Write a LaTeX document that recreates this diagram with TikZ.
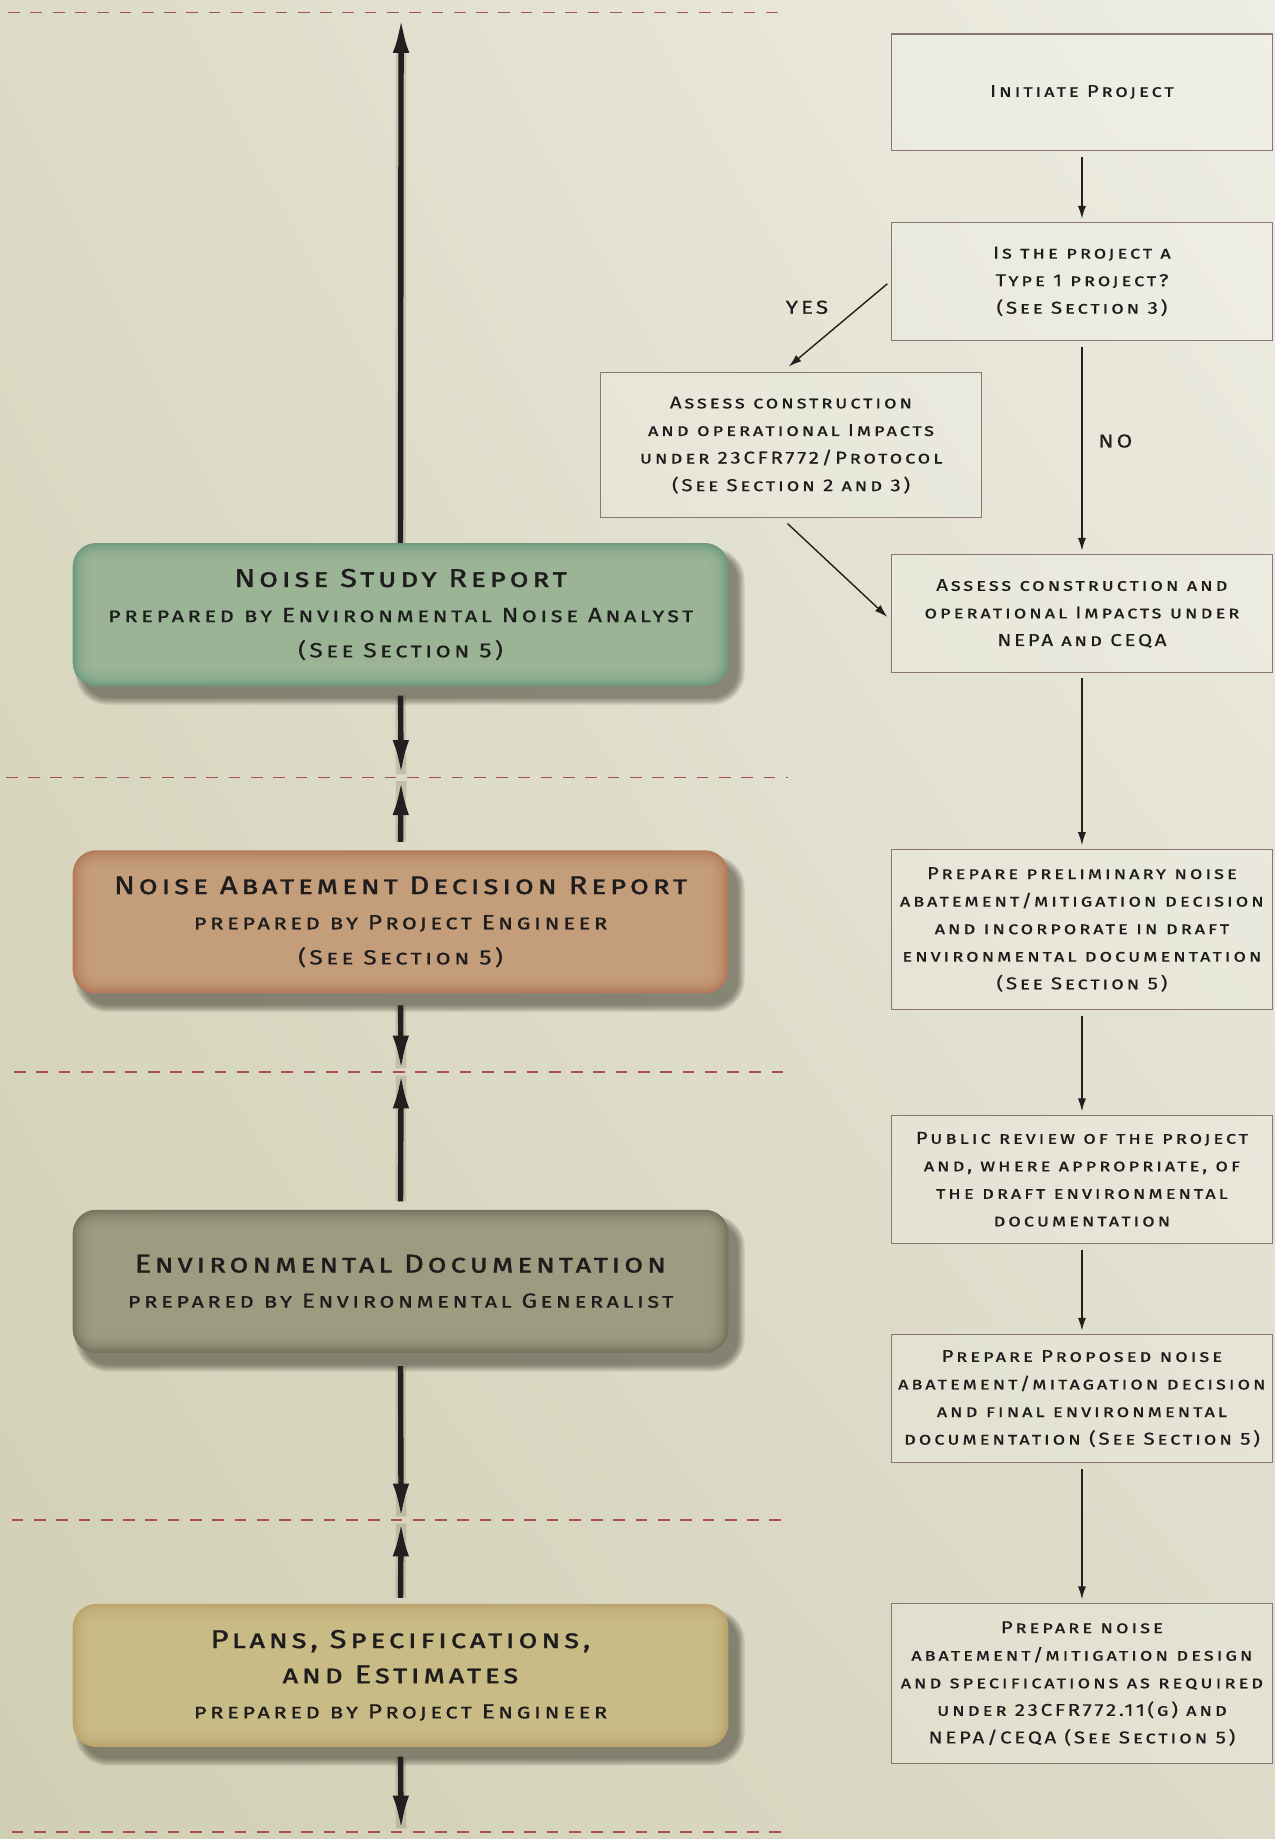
\documentclass[tikz,border=0pt]{standalone}
\usepackage{fontspec}
\setmainfont{Fira Sans}
\newfontfamily\scfont{Fira Sans}[Letters=SmallCaps,LetterSpace=16,FakeStretch=1.2,FakeBold=0.4]
\newfontfamily\sctitle{Fira Sans}[Letters=SmallCaps,LetterSpace=14,FakeStretch=1.2,FakeBold=1.2]
\usetikzlibrary{arrows.meta,shadings}
\definecolor{bgTL}{HTML}{DCDBC6}
\definecolor{bgTR}{HTML}{EEEDE3}
\definecolor{bgBL}{HTML}{D1CFB3}
\definecolor{bgBR}{HTML}{DDDBC8}
\definecolor{dashc}{HTML}{A8505A}
\definecolor{boxborder}{HTML}{8C7474}
\definecolor{textc}{HTML}{1E1C1C}
\definecolor{arrowc}{HTML}{231F20}
\definecolor{gEdge}{HTML}{6E9A80}
\definecolor{gMid}{HTML}{A2BA9A}
\definecolor{sEdge}{HTML}{B47A5C}
\definecolor{sMid}{HTML}{C8A580}
\definecolor{oEdge}{HTML}{767660}
\definecolor{oMid}{HTML}{A3A386}
\definecolor{yEdge}{HTML}{BCA56C}
\definecolor{yMid}{HTML}{CDC08C}
\newcommand{\LBoxBg}[4]{%
  \foreach \i in {0,...,6}{%
    \pgfmathsetmacro{\rr}{22+\i}%
    \fill[black!75!olive, opacity=0.10, rounded corners=\rr pt]
      (#1-279.5+8-\i, #2-61+10-\i) rectangle (#1+279.5+8+\i, #2+61+10+\i);}
  \fill[#3, rounded corners=20pt] (#1-279.5,#2-61) rectangle (#1+279.5,#2+61);
  \foreach \i in {1,...,9}{%
    \pgfmathsetmacro{\ins}{1.8*\i}%
    \pgfmathsetmacro{\rr}{max(20-1.8*\i,4)}%
    \fill[#4, opacity=0.22, rounded corners=\rr pt]
      (#1-279.5+\ins,#2-61+\ins) rectangle (#1+279.5-\ins,#2+61-\ins);}
}
\begin{document}
\begin{tikzpicture}[x=1pt,y=-1pt,
  rbox/.style={draw=boxborder, line width=0.9pt, fill=white, fill opacity=0.18, text opacity=1,
    minimum width=325pt, align=center, inner sep=0pt, text=textc,
    font=\scfont\fontsize{14.6}{23.5}\selectfont},
  lbox/.style={minimum width=559pt, minimum height=122pt, align=center, inner sep=0pt, text=textc,
    font=\scfont\fontsize{17.5}{30}\selectfont},
  flow/.style={draw=arrowc, line width=1.2pt, -{Latex[length=11pt,width=7pt]}, shorten <=5pt, shorten >=3pt},
  mainarr/.style={draw=arrowc, line width=4.6pt, -{Latex[length=30pt,width=14pt]}},
  mainshadow/.style={draw=black!60!olive, line width=9pt, opacity=0.18},
  sepline/.style={draw=dashc, line width=1pt, dash pattern=on 10pt off 9pt},
  lbl/.style={font=\scfont\fontsize{16}{18}\selectfont, text=textc}
]
\useasboundingbox (0,0) rectangle (1087,1568);
\shade[upper left=bgTL, upper right=bgTR, lower left=bgBL, lower right=bgBR] (0,0) rectangle (1087,1568);

% separators
\draw[sepline] (7,11) -- (672,11);
\draw[sepline] (5,663) -- (672,663);
\draw[sepline] (12,914) -- (675,914);
\draw[sepline] (10,1296) -- (672,1296);
\draw[sepline] (10,1562) -- (672,1562);
\coordinate (s0) at (342,11);
\coordinate (s1) at (342,663);
\coordinate (s2) at (342,914);
\coordinate (s3) at (342,1296);
\coordinate (s4) at (342,1562);

% left box backgrounds
\LBoxBg{341.5}{524}{gEdge}{gMid}
\LBoxBg{341.5}{786}{sEdge}{sMid}
\LBoxBg{341.5}{1092.5}{oEdge}{oMid}
\LBoxBg{341.5}{1428.5}{yEdge}{yMid}

% left box texts
\node[lbox] (nsr) at (341.5,524) {{\sctitle\fontsize{22}{30}\selectfont Noise Study Report}\\prepared by Environmental Noise Analyst\\(See Section 5)};
\node[lbox] (ndr) at (341.5,786) {{\sctitle\fontsize{22}{30}\selectfont Noise Abatement Decision Report}\\prepared by Project Engineer\\(See Section 5)};
\node[lbox] (envd) at (341.5,1092.5) {{\sctitle\fontsize{22}{30}\selectfont Environmental Documentation}\\prepared by Environmental Generalist};
\node[lbox] (pse) at (341.5,1428.5) {{\sctitle\fontsize{22}{30}\selectfont Plans, Specifications,}\\{\sctitle\fontsize{22}{30}\selectfont and Estimates}\\prepared by Project Engineer};

% main arrows: shadows
\begin{scope}[xshift=5pt]
\draw[mainshadow] (nsr.north) -- ([yshift=-30pt]s0);
\draw[mainshadow] ([yshift=-8pt]nsr.south) -- ([yshift=3pt]s1);
\draw[mainshadow] ([yshift=7pt]ndr.north) -- ([yshift=-3pt]s1);
\draw[mainshadow] ([yshift=-10pt]ndr.south) -- ([yshift=3pt]s2);
\draw[mainshadow] ([yshift=7pt]envd.north) -- ([yshift=-3pt]s2);
\draw[mainshadow] ([yshift=-11pt]envd.south) -- ([yshift=3pt]s3);
\draw[mainshadow] ([yshift=5pt]pse.north) -- ([yshift=-3pt]s3);
\draw[mainshadow] ([yshift=-8pt]pse.south) -- ([yshift=3pt]s4);
\end{scope}
% main arrows
\draw[mainarr] (nsr.north) -- ([yshift=-4pt]s0);
\draw[mainarr] ([yshift=-8pt]nsr.south) -- ([yshift=2pt]s1);
\draw[mainarr] ([yshift=7pt]ndr.north) -- ([yshift=-2pt]s1);
\draw[mainarr] ([yshift=-10pt]ndr.south) -- ([yshift=1pt]s2);
\draw[mainarr] ([yshift=7pt]envd.north) -- ([yshift=-1pt]s2);
\draw[mainarr] ([yshift=-11pt]envd.south) -- ([yshift=1pt]s3);
\draw[mainarr] ([yshift=5pt]pse.north) -- ([yshift=-1pt]s3);
\draw[mainarr] ([yshift=-8pt]pse.south) -- ([yshift=1pt]s4);

% right column boxes
\node[rbox, minimum height=99pt] (init) at (922.5,78.5) {Initiate Project};
\node[rbox, minimum height=100pt] (type1) at (922.5,240) {Is the project a\\Type 1 project?\\(See Section 3)};
\node[rbox, minimum height=123pt] (a23) at (674.5,379.5) {Assess construction\\and operational Impacts\\under 23CFR772/Protocol\\(See Section 2 and 3)};
\node[rbox, minimum height=100pt] (nepa) at (922.5,523) {Assess construction and\\operational Impacts under\\NEPA and CEQA};
\node[rbox, minimum height=137pt] (prelim) at (922.5,792.5) {Prepare preliminary noise\\abatement/mitigation decision\\and incorporate in draft\\environmental documentation\\(See Section 5)};
\node[rbox, minimum height=109pt] (public) at (922.5,1005.5) {Public review of the project\\and, where appropriate, of\\the draft environmental\\documentation};
\node[rbox, minimum height=109pt] (prop) at (922.5,1192.5) {Prepare Proposed noise\\abatement/mitagation decision\\and final environmental\\documentation (See Section 5)};
\node[rbox, minimum height=137pt] (design) at (922.5,1435.5) {Prepare noise\\abatement/mitigation design\\and specifications as required\\under 23CFR772.11(g) and\\NEPA/CEQA (See Section 5)};

% right column connectors
\draw[flow] (init) -- (type1);
\draw[flow] (type1) -- node[lbl, right=10pt, pos=0.47] (nolbl) {NO} (nepa);
\draw[flow] (nepa) -- (prelim);
\draw[flow] (prelim) -- (public);
\draw[flow] (public) -- (prop);
\draw[flow] (prop) -- (design);
\draw[flow, shorten <=0pt, shorten >=0pt] ([xshift=-3pt,yshift=-2pt]type1.west) -- ([xshift=-2pt,yshift=5pt]a23.north);
\node[lbl] (yeslbl) at (688,262) {YES};
\draw[flow, shorten <=0pt, shorten >=0pt] ([xshift=-3pt,yshift=-5pt]a23.south) -- ([xshift=-3pt,yshift=-3pt]nepa.west);
\end{tikzpicture}
\end{document}
